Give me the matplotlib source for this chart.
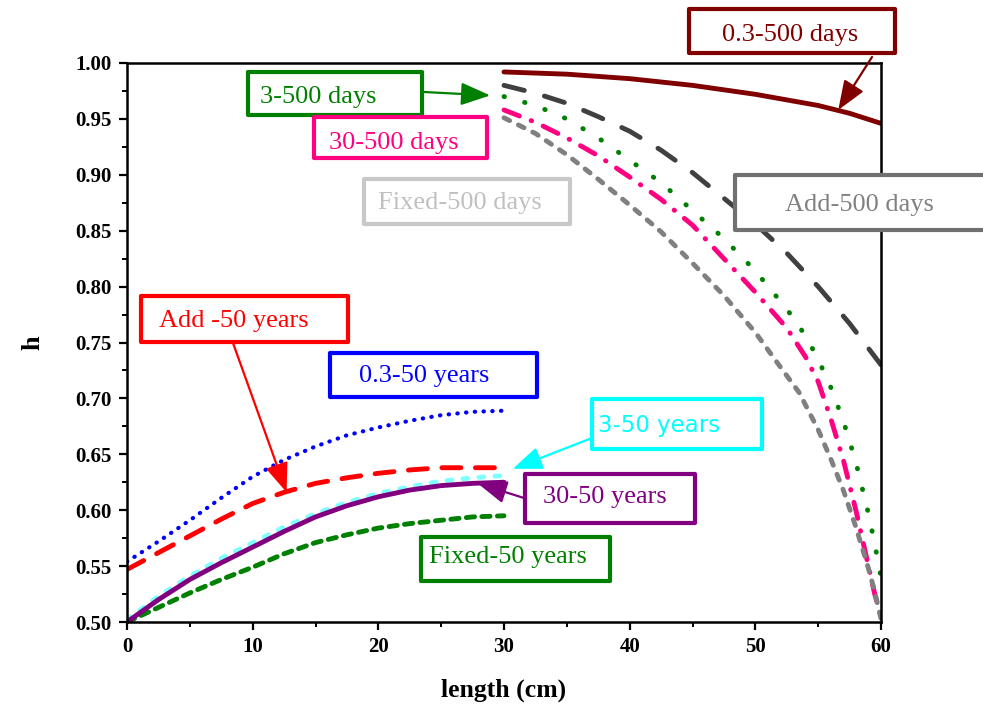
import numpy as np
import matplotlib
matplotlib.use("Agg")
import matplotlib.pyplot as plt
from matplotlib.patches import FancyBboxPatch
from matplotlib.ticker import MultipleLocator, FormatStrFormatter

plt.rcParams['font.family'] = ['Liberation Serif', 'DejaVu Serif']

# ---- data ----
x_days = [30, 32.5, 35, 37.5, 40, 42.5, 45, 47.5, 50, 52.5, 55, 57.5, 60]
h_03_500d = [0.992, 0.991, 0.990, 0.988, 0.986, 0.983, 0.980, 0.976, 0.972, 0.967, 0.962, 0.955, 0.946]
h_add_500d = [0.980, 0.973, 0.964, 0.952, 0.939, 0.922, 0.902, 0.879, 0.856, 0.830, 0.800, 0.767, 0.730]

x_days_3 = [30, 32.5, 35, 37.5, 40, 42.5, 45, 47.5, 50, 52.5, 54, 55, 56, 57, 58, 59, 59.5, 60]
h_3_500d = [0.970, 0.962, 0.950, 0.933, 0.913, 0.893, 0.868, 0.843, 0.814, 0.780, 0.756, 0.735, 0.710, 0.680, 0.643, 0.597, 0.570, 0.540]
h_30_500d = [0.958, 0.947, 0.933, 0.917, 0.898, 0.878, 0.855, 0.825, 0.795, 0.763, 0.737, 0.715, 0.682, 0.645, 0.600, 0.550, 0.525, 0.505]

x_days_f = [30, 32.5, 35, 37.5, 40, 42.5, 45, 47.5, 50, 52, 53.5, 55, 56, 57, 58, 59, 59.5, 60]
h_fix_500d = [0.951, 0.937, 0.918, 0.896, 0.873, 0.849, 0.821, 0.792, 0.759, 0.728, 0.705, 0.672, 0.646, 0.618, 0.585, 0.548, 0.527, 0.503]

x_years = [0, 2.5, 5, 7.5, 10, 12.5, 15, 17.5, 20, 22.5, 25, 27.5, 30]
h_03_50y = [0.554, 0.572, 0.591, 0.611, 0.630, 0.645, 0.657, 0.667, 0.674, 0.680, 0.685, 0.688, 0.689]
h_add_50y = [0.547, 0.562, 0.577, 0.592, 0.606, 0.616, 0.624, 0.629, 0.633, 0.636, 0.638, 0.638, 0.638]
h_3_50y = [0.502, 0.523, 0.541, 0.557, 0.571, 0.585, 0.597, 0.607, 0.615, 0.621, 0.626, 0.629, 0.631]
h_30_50y = [0.500, 0.520, 0.538, 0.553, 0.567, 0.581, 0.594, 0.604, 0.612, 0.618, 0.622, 0.624, 0.625]
h_fix_50y = [0.500, 0.513, 0.526, 0.538, 0.549, 0.561, 0.571, 0.578, 0.584, 0.588, 0.591, 0.594, 0.595]

W, H = 983, 709
fig = plt.figure(figsize=(W / 100, H / 100), dpi=100)
ax = fig.add_axes([127 / W, 1 - 622 / H, 754 / W, 559 / H])

kw = dict(lw=3.5, solid_capstyle='round', dash_capstyle='round')
ax.plot(x_days, h_03_500d, color='#800000', ls='-', **kw)
ax.plot(x_days, h_add_500d, color='#404040', ls=(0, (4.3, 4.3)), **kw)
ax.plot(x_days_3, h_3_500d, color='#008000', ls=(0, (0.1, 4.3)), **kw)
ax.plot(x_days_3, h_30_500d, color='#FF0080', ls=(0, (3.4, 2.6, 0.1, 2.6)), **kw)
ax.plot(x_days_f, h_fix_500d, color='#808080', ls=(0, (1.3, 2.0)), **kw)

ax.plot(x_years, h_03_50y, color='#0000FF', ls=(0, (0.1, 2.0)), lw=3.0,
        dash_capstyle='round')
ax.plot(x_years, h_add_50y, color='#FF0000', ls=(0, (3.9, 3.0)), **kw)
ax.plot(x_years, h_fix_50y, color='#008000', ls=(0, (1.7, 1.5)), **kw)
ax.plot(x_years, h_3_50y, color='#80FFFF', ls=(0, (1.0, 2.3)), **kw)
ax.plot(x_years, h_30_50y, color='#800080', ls='-', **kw)

ax.set_xlim(0, 60)
ax.set_ylim(0.5, 1.0)
ax.xaxis.set_major_locator(MultipleLocator(10))
ax.xaxis.set_minor_locator(MultipleLocator(5))
ax.yaxis.set_major_locator(MultipleLocator(0.05))
ax.yaxis.set_minor_locator(MultipleLocator(0.025))
ax.yaxis.set_major_formatter(FormatStrFormatter('%.2f'))
for s in ax.spines.values():
    s.set_linewidth(1.8)
ax.tick_params(which='major', direction='out', length=6, width=1.6, pad=5,
               labelsize=15, top=False, right=False)
ax.tick_params(which='minor', direction='out', length=3.5, width=1.4,
               top=False, right=False)
for lab in ax.get_xticklabels() + ax.get_yticklabels():
    lab.set_fontweight('bold')
ax.set_xlabel('length (cm)', fontsize=18.5, fontweight='bold', labelpad=15)
ax.set_ylabel('h', fontsize=19, fontweight='bold', labelpad=22)


def box(x0, y0, x1, y1, edge, text, tcolor, cx, cy, family=None, size=19):
    p = FancyBboxPatch((x0 / W, 1 - y1 / H), (x1 - x0) / W, (y1 - y0) / H,
                       boxstyle='square,pad=0', transform=fig.transFigure,
                       facecolor='white', edgecolor=edge, lw=3,
                       joinstyle='round', zorder=5)
    fig.add_artist(p)
    fig.text(cx / W, 1 - cy / H, text, color=tcolor, ha='center',
             va='center_baseline', fontsize=size, zorder=6,
             family=family if family else ['Liberation Serif'])


def arrow(tip, start, color):
    ax.annotate('', xy=tip, xycoords='data',
                xytext=(start[0] / W, 1 - start[1] / H),
                textcoords='figure fraction', annotation_clip=False,
                arrowprops=dict(arrowstyle='-|>,head_length=0.9,head_width=0.35',
                                color=color, lw=1.6, shrinkA=0, shrinkB=0,
                                mutation_scale=20))


arrow((56.6, 0.958), (872, 57), '#800000')
arrow((28.9, 0.971), (424, 92), '#008000')
arrow((12.7, 0.616), (233, 343), '#FF0000')
arrow((30.7, 0.637), (592, 438), '#00FFFF')
arrow((27.9, 0.624), (524, 498), '#800080')

box(689, 9, 895, 53, '#800000', '0.3-500 days', '#800000', 790, 33)
box(248, 72, 422, 115, '#008000', '3-500 days', '#008000', 318, 94)
box(314, 117, 487, 158, '#FF0080', '30-500 days', '#FF0080', 394, 141)
box(364, 179, 570, 224, '#C8C8C8', 'Fixed-500 days', '#C0C0C0', 460, 201)
box(735, 175, 1000, 230, '#707070', 'Add-500 days', '#808080', 859, 202)
box(141, 296, 348, 342, '#FF0000', 'Add -50 years', '#FF0000', 234, 319)
box(330, 353, 537, 397, '#0000FF', '0.3-50 years', '#0000FF', 424, 374)
box(592, 399, 762, 449, '#00FFFF', '3-50 years', '#00FFFF', 659, 423,
    family=['DejaVu Sans'], size=16.5)
box(525, 474, 695, 523, '#800080', '30-50 years', '#800080', 605, 494)
box(421, 537, 610, 581, '#008000', 'Fixed-50 years', '#008000', 508, 554)

fig.savefig('out.png', dpi=100)
